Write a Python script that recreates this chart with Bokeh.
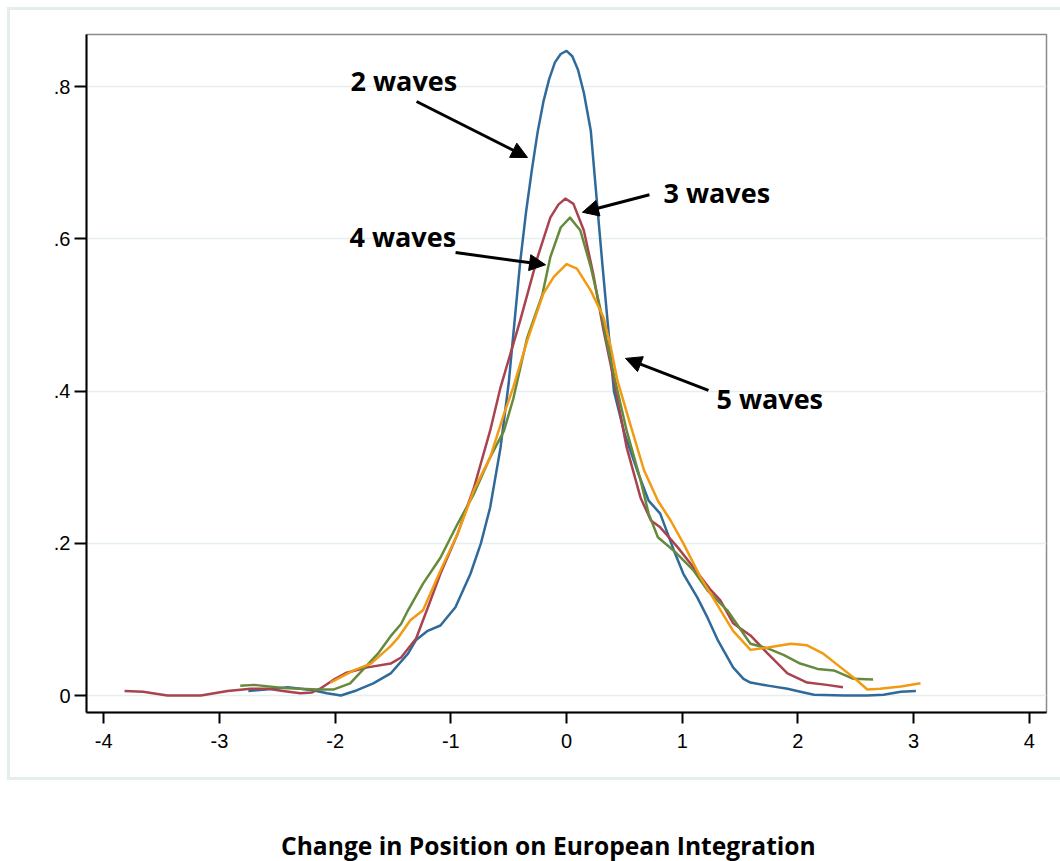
from bokeh.plotting import figure
from bokeh.layouts import column
from bokeh.models import Range1d, FixedTicker, Label, Arrow, NormalHead, InlineStyleSheet
from bokeh.embed import file_html
from bokeh.resources import INLINE

# ---------------- data ----------------
x_2w = [-2.75, -2.6, -2.41, -2.19, -2.07, -1.95, -1.81, -1.67, -1.52, -1.37, -1.3, -1.2, -1.09,
        -0.96, -0.83, -0.74, -0.66, -0.57, -0.5, -0.45, -0.4, -0.35, -0.3, -0.25, -0.2, -0.15,
        -0.1, -0.05, 0.0, 0.05, 0.1, 0.15, 0.21, 0.26, 0.31, 0.41, 0.5, 0.62, 0.71, 0.81, 0.93,
        1.01, 1.13, 1.22, 1.31, 1.44, 1.53, 1.59, 1.74, 1.91, 2.05, 2.14, 2.4, 2.6, 2.74, 2.89, 3.02]
y_2w = [0.006, 0.008, 0.011, 0.007, 0.003, 0.0, 0.007, 0.016, 0.029, 0.055, 0.073, 0.085, 0.092,
        0.116, 0.16, 0.2, 0.247, 0.326, 0.41, 0.49, 0.57, 0.635, 0.69, 0.74, 0.78, 0.81,
        0.832, 0.843, 0.847, 0.84, 0.822, 0.792, 0.742, 0.654, 0.567, 0.40, 0.345, 0.292, 0.256, 0.239, 0.19,
        0.16, 0.129, 0.102, 0.072, 0.037, 0.022, 0.017, 0.013, 0.009, 0.004, 0.001, 0.0, 0.0, 0.001, 0.005, 0.006]

x_3w = [-3.82, -3.66, -3.45, -3.16, -2.93, -2.73, -2.58, -2.45, -2.3, -2.2, -2.13, -2.0, -1.9,
        -1.72, -1.52, -1.43, -1.3, -1.2, -1.09, -0.94, -0.8, -0.66, -0.57, -0.4, -0.25, -0.14,
        -0.07, -0.01, 0.06, 0.15, 0.23, 0.32, 0.41, 0.52, 0.64, 0.73, 0.81, 0.96, 1.1, 1.24, 1.33,
        1.44, 1.59, 1.74, 1.91, 2.08, 2.25, 2.39]
y_3w = [0.006, 0.005, 0.0, 0.0, 0.006, 0.009, 0.009, 0.006, 0.003, 0.004, 0.009, 0.022, 0.03,
        0.037, 0.042, 0.05, 0.075, 0.115, 0.16, 0.213, 0.273, 0.348, 0.405, 0.493, 0.576, 0.628,
        0.645, 0.653, 0.646, 0.611, 0.555, 0.48, 0.414, 0.326, 0.26, 0.23, 0.221, 0.195, 0.168, 0.14, 0.125,
        0.095, 0.079, 0.055, 0.029, 0.017, 0.014, 0.011]

x_4w = [-2.82, -2.7, -2.45, -2.15, -2.01, -1.87, -1.63, -1.52, -1.43, -1.37, -1.24, -1.09, -0.94,
        -0.8, -0.66, -0.54, -0.46, -0.34, -0.21, -0.14, -0.05, 0.03, 0.12, 0.21, 0.29, 0.36,
        0.42, 0.52, 0.64, 0.71, 0.79, 0.93, 1.1, 1.22, 1.39, 1.59, 1.74, 1.88, 2.02, 2.17,
        2.31, 2.48, 2.65]
y_4w = [0.013, 0.014, 0.01, 0.008, 0.008, 0.016, 0.055, 0.078, 0.094, 0.112, 0.147, 0.181, 0.226,
        0.265, 0.313, 0.348, 0.39, 0.47, 0.526, 0.576, 0.615, 0.628, 0.611, 0.563, 0.51, 0.457,
        0.414, 0.348, 0.283, 0.239, 0.208, 0.19, 0.164, 0.138, 0.112, 0.068, 0.062, 0.053, 0.042, 0.035,
        0.033, 0.022, 0.021]

x_5w = [-2.04, -1.84, -1.69, -1.52, -1.46, -1.35, -1.24, -1.09, -0.94, -0.8, -0.66, -0.54, -0.46,
        -0.34, -0.2, -0.11, 0.0, 0.09, 0.21, 0.32, 0.38, 0.44, 0.55, 0.67, 0.79, 0.9, 1.01,
        1.16, 1.28, 1.44, 1.59, 1.74, 1.94, 2.08, 2.22, 2.37, 2.51, 2.6, 2.71, 2.89, 3.06]
y_5w = [0.017, 0.033, 0.042, 0.065, 0.075, 0.099, 0.112, 0.164, 0.213, 0.27, 0.313, 0.37, 0.405,
        0.466, 0.528, 0.55, 0.567, 0.561, 0.532, 0.497, 0.46, 0.414, 0.357, 0.296, 0.256, 0.23, 0.2,
        0.155, 0.125, 0.085, 0.06, 0.063, 0.068, 0.066, 0.055, 0.037, 0.02, 0.008, 0.009, 0.012, 0.016]

series_names = ["2 waves", "3 waves", "4 waves", "5 waves"]
x_ticks = [-4, -3, -2, -1, 0, 1, 2, 3, 4]
x_tick_labels = ["-4", "-3", "-2", "-1", "0", "1", "2", "3", "4"]
y_ticks = [0, 0.2, 0.4, 0.6, 0.8]
y_tick_labels = ["0", ".2", ".4", ".6", ".8"]
x_title = "Change in Position on European Integration"

# ---------------- main figure ----------------
p = figure(width=1060, height=785, output_backend="svg", toolbar_location=None,
           x_range=Range1d(-4.149, 4.149), y_range=Range1d(-0.0223, 0.8686),
           min_border_left=86, min_border_right=14, min_border_top=34, min_border_bottom=73)
p.background_fill_color = "white"
p.border_fill_color = "white"
p.outline_line_color = "#8a8a8a"
p.outline_line_width = 1.5

p.stylesheets = [InlineStyleSheet(css="""
:host { position: relative; }
:host::after {
  content: "";
  position: absolute;
  left: 7px; top: 7px;
  width: 1080px; height: 773px;
  border: 3px solid #e4eeee;
  box-sizing: border-box;
  pointer-events: none;
  z-index: 10;
}
""")]

p.xgrid.visible = False
p.ygrid.grid_line_color = "#e6eff0"
p.ygrid.grid_line_width = 1.5

for ax in (p.xaxis[0], p.yaxis[0]):
    ax.axis_line_color = "black"
    ax.axis_line_width = 2
    ax.major_tick_line_color = "black"
    ax.major_tick_line_width = 2
    ax.major_tick_in = 0
    ax.minor_tick_line_color = None
    ax.major_label_text_font = "Liberation Sans"
    ax.major_label_text_font_size = "20px"
    ax.major_label_text_color = "black"

p.xaxis.ticker = FixedTicker(ticks=x_ticks)
p.xaxis.major_label_overrides = {t: l for t, l in zip(x_ticks, x_tick_labels)}
p.xaxis.major_tick_out = 11
p.xaxis.major_label_standoff = 10
p.yaxis.ticker = FixedTicker(ticks=y_ticks)
p.yaxis.major_label_overrides = {t: l for t, l in zip(y_ticks, y_tick_labels)}
p.yaxis.major_tick_out = 12
p.yaxis.major_label_standoff = 4

colors = ["#2f6a9a", "#a8434f", "#668a3c", "#f29a12"]
for xs, ys, c in zip([x_2w, x_3w, x_4w, x_5w], [y_2w, y_3w, y_4w, y_5w], colors):
    p.line(xs, ys, line_color=c, line_width=2.5, line_join="round")

# annotation labels
lab_font = "Open Sans"
lab_pos = [(-1.867, 0.808), (0.838, 0.661), (-1.876, 0.603), (1.296, 0.39)]
for name, (lx, ly) in zip(series_names, lab_pos):
    p.add_layout(Label(x=lx, y=ly, text=name, text_font=lab_font, text_font_style="bold",
                       text_font_size="27px", text_color="black",
                       text_align="left", text_baseline="middle"))

arrows = [((-1.296, 0.7806), (-0.337, 0.707)),
          ((0.717, 0.658), (0.138, 0.635)),
          ((-0.959, 0.582), (-0.181, 0.566)),
          ((1.227, 0.401), (0.51, 0.443))]
for (x0, y0), (x1, y1) in arrows:
    p.add_layout(Arrow(x_start=x0, y_start=y0, x_end=x1, y_end=y1, line_color="black", line_width=3,
                       end=NormalHead(size=16, fill_color="black", line_color="black")))

# ---------------- title strip ----------------
t = figure(width=1060, height=76, output_backend="svg", toolbar_location=None,
           x_range=Range1d(0, 1060), y_range=Range1d(0, 76),
           x_axis_location=None, y_axis_location=None,
           min_border_left=0, min_border_right=0, min_border_top=0, min_border_bottom=0)
t.outline_line_color = None
t.grid.visible = False
t.background_fill_color = "white"
t.border_fill_color = "white"
t.add_layout(Label(x=510, y=16, text=x_title, text_font=lab_font, text_font_style="bold",
                   text_font_size="24.6px", text_color="black",
                   text_align="center", text_baseline="middle"))

layout = column(p, t, spacing=0)
open("out.html", "w").write(file_html(layout, INLINE))
